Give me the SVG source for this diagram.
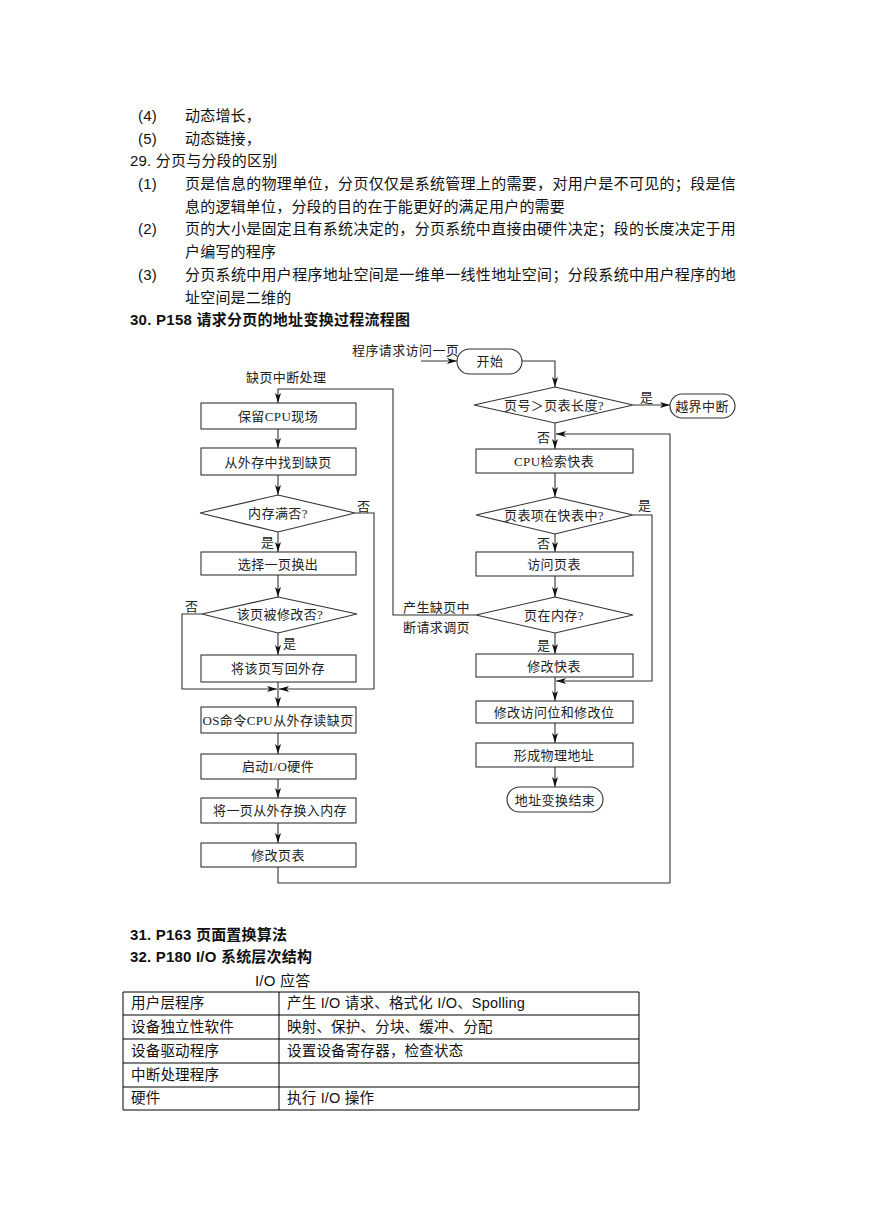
<svg xmlns="http://www.w3.org/2000/svg" width="869" height="1228" viewBox="0 0 869 1228">
<style>
.t{font-family:"Liberation Sans","Noto Sans CJK SC",sans-serif;font-size:15px;letter-spacing:0.2px;fill:#111}
.h{font-family:"Liberation Sans","Noto Sans CJK SC",sans-serif;font-size:15px;font-weight:bold;fill:#111}
.f{font-family:"Liberation Serif","Noto Sans CJK SC",serif;font-size:13px;letter-spacing:0.4px;fill:#222;text-anchor:middle;dominant-baseline:central}
.l{font-family:"Liberation Serif","Noto Sans CJK SC",serif;font-size:13px;letter-spacing:0.4px;fill:#222;dominant-baseline:central}
.n rect,.n polygon{fill:#fff;stroke:#333;stroke-width:1.1}
.c path{fill:none;stroke:#333;stroke-width:1.1;marker-end:url(#a)}
.tb line{stroke:#000;stroke-width:1}
.tt{font-family:"Liberation Sans","Noto Sans CJK SC",sans-serif;font-size:14.5px;letter-spacing:0.2px;fill:#111;dominant-baseline:central}
</style>
<defs>
<marker id="a" markerWidth="10" markerHeight="6" refX="10" refY="3" orient="auto" markerUnits="userSpaceOnUse">
<path d="M0,0 L10,3 L0,6 L2.5,3 Z" fill="#111"/>
</marker>
</defs>
<rect width="869" height="1228" fill="#fff"/>

<g id="text-top">
<text class="t" x="138" y="121">(4)</text><text class="t" x="185" y="121">动态增长，</text>
<text class="t" x="138" y="144">(5)</text><text class="t" x="185" y="144">动态链接，</text>
<text class="t" x="130" y="166">29. 分页与分段的区别</text>
<text class="t" x="138" y="189">(1)</text><text class="t" x="185" y="189" textLength="551" lengthAdjust="spacing">页是信息的物理单位，分页仅仅是系统管理上的需要，对用户是不可见的；段是信</text>
<text class="t" x="185" y="212">息的逻辑单位，分段的目的在于能更好的满足用户的需要</text>
<text class="t" x="138" y="234">(2)</text><text class="t" x="185" y="234" textLength="551" lengthAdjust="spacing">页的大小是固定且有系统决定的，分页系统中直接由硬件决定；段的长度决定于用</text>
<text class="t" x="185" y="257">户编写的程序</text>
<text class="t" x="138" y="280">(3)</text><text class="t" x="185" y="280" textLength="551" lengthAdjust="spacing">分页系统中用户程序地址空间是一维单一线性地址空间；分段系统中用户程序的地</text>
<text class="t" x="185" y="303">址空间是二维的</text>
<text class="h" x="130" y="325" textLength="280" lengthAdjust="spacing">30. P158 请求分页的地址变换过程流程图</text>
</g>

<g id="connectors" class="c">
<path d="M476,615 H393 V389 H278 V403"/>
<path d="M278,429 V448"/>
<path d="M278,475 V495"/>
<path d="M278,532 V552"/>
<path d="M355,513 H374 V689 H279"/>
<path d="M278,575 V597"/>
<path d="M202,614 H182 V689 H277"/>
<path d="M278,633 V655"/>
<path d="M278,682 V707"/>
<path d="M278,733 V754"/>
<path d="M278,779 V798"/>
<path d="M278,823 V843"/>
<path d="M278,867 V883 H670 V434 H556"/>
<path d="M421,361 H457"/>
<path d="M522,361 H555 V387"/>
<path d="M633,405 H670"/>
<path d="M555,423 V449"/>
<path d="M555,473 V497"/>
<path d="M555,534 V552"/>
<path d="M633,515 H652 V681 H556"/>
<path d="M555,576 V597"/>
<path d="M555,633 V654"/>
<path d="M555,677 V701"/>
<path d="M555,723 V743"/>
<path d="M555,767 V787"/>
</g>

<g id="connector-labels">
<text class="l" x="352" y="350">程序请求访问一页</text>
<text class="l" x="246" y="377">缺页中断处理</text>
<text class="l" x="640" y="397">是</text>
<text class="l" x="537" y="437">否</text>
<text class="l" x="638" y="505">是</text>
<text class="l" x="537" y="543">否</text>
<text class="l" x="537" y="645">是</text>
<text class="l" x="403" y="607">产生缺页中</text>
<text class="l" x="403" y="627">断请求调页</text>
<text class="l" x="357" y="506">否</text>
<text class="l" x="261" y="542">是</text>
<text class="l" x="185" y="606">否</text>
<text class="l" x="283" y="643">是</text>
</g>

<g id="n-start" class="n"><rect x="457" y="349" width="65" height="25" rx="12.5"/><text class="f" x="490" y="361">开始</text></g>
<g id="n-check-len" class="n"><polygon points="555,387 633,405 555,423 474,405"/><text class="f" x="554" y="405">页号＞页表长度?</text></g>
<g id="n-out" class="n"><rect x="670" y="394" width="65" height="24" rx="12"/><text class="f" x="702" y="406">越界中断</text></g>
<g id="n-cpu-tlb" class="n"><rect x="476" y="449" width="157" height="24"/><text class="f" x="554" y="461">CPU检索快表</text></g>
<g id="n-in-tlb" class="n"><polygon points="555,497 633,515 555,534 476,515"/><text class="f" x="554" y="515">页表项在快表中?</text></g>
<g id="n-visit-pt" class="n"><rect x="476" y="552" width="157" height="24"/><text class="f" x="554" y="564">访问页表</text></g>
<g id="n-in-mem" class="n"><polygon points="555,597 633,615 555,633 476,615"/><text class="f" x="554" y="615">页在内存?</text></g>
<g id="n-mod-tlb" class="n"><rect x="476" y="654" width="157" height="23"/><text class="f" x="554" y="666">修改快表</text></g>
<g id="n-mod-bits" class="n"><rect x="476" y="701" width="157" height="22"/><text class="f" x="554" y="712">修改访问位和修改位</text></g>
<g id="n-phys" class="n"><rect x="476" y="743" width="157" height="24"/><text class="f" x="554" y="755">形成物理地址</text></g>
<g id="n-end" class="n"><rect x="507" y="787" width="96" height="25" rx="12.5"/><text class="f" x="555" y="800">地址变换结束</text></g>

<g id="n-save-cpu" class="n"><rect x="201" y="403" width="155" height="26"/><text class="f" x="278" y="416">保留CPU现场</text></g>
<g id="n-find" class="n"><rect x="201" y="448" width="155" height="27"/><text class="f" x="278" y="462">从外存中找到缺页</text></g>
<g id="n-mem-full" class="n"><polygon points="278,495 355,513 278,532 200,513"/><text class="f" x="278" y="513">内存满否?</text></g>
<g id="n-select" class="n"><rect x="201" y="552" width="155" height="23"/><text class="f" x="278" y="564">选择一页换出</text></g>
<g id="n-modified" class="n"><polygon points="278,597 357,614 278,633 202,614"/><text class="f" x="280" y="614">该页被修改否?</text></g>
<g id="n-writeback" class="n"><rect x="201" y="655" width="155" height="27"/><text class="f" x="278" y="668">将该页写回外存</text></g>
<g id="n-os-read" class="n"><rect x="201" y="707" width="155" height="26"/><text class="f" x="278" y="720">OS命令CPU从外存读缺页</text></g>
<g id="n-io" class="n"><rect x="201" y="754" width="155" height="25"/><text class="f" x="278" y="766">启动I/O硬件</text></g>
<g id="n-swapin" class="n"><rect x="201" y="798" width="155" height="25"/><text class="f" x="280" y="810">将一页从外存换入内存</text></g>
<g id="n-mod-pt" class="n"><rect x="201" y="843" width="155" height="24"/><text class="f" x="278" y="855">修改页表</text></g>

<g id="text-bottom">
<text class="h" x="130" y="940" textLength="157" lengthAdjust="spacing">31. P163 页面置换算法</text>
<text class="h" x="130" y="962" textLength="182" lengthAdjust="spacing">32. P180 I/O 系统层次结构</text>
<text class="t" x="255" y="986">I/O 应答</text>
</g>

<g id="table" class="tb">
<line x1="123" y1="992" x2="639" y2="992"/>
<line x1="123" y1="1015" x2="639" y2="1015"/>
<line x1="123" y1="1039" x2="639" y2="1039"/>
<line x1="123" y1="1063" x2="639" y2="1063"/>
<line x1="123" y1="1087" x2="639" y2="1087"/>
<line x1="123" y1="1110" x2="639" y2="1110"/>
<line x1="123" y1="992" x2="123" y2="1110"/>
<line x1="279" y1="992" x2="279" y2="1110"/>
<line x1="639" y1="992" x2="639" y2="1110"/>
<text class="tt" x="131" y="1003">用户层程序</text><text class="tt" x="287" y="1003">产生 I/O 请求、格式化 I/O、Spolling</text>
<text class="tt" x="131" y="1027">设备独立性软件</text><text class="tt" x="287" y="1027">映射、保护、分块、缓冲、分配</text>
<text class="tt" x="131" y="1051">设备驱动程序</text><text class="tt" x="287" y="1051">设置设备寄存器，检查状态</text>
<text class="tt" x="131" y="1075">中断处理程序</text>
<text class="tt" x="131" y="1098">硬件</text><text class="tt" x="287" y="1098">执行 I/O 操作</text>
</g>
</svg>
